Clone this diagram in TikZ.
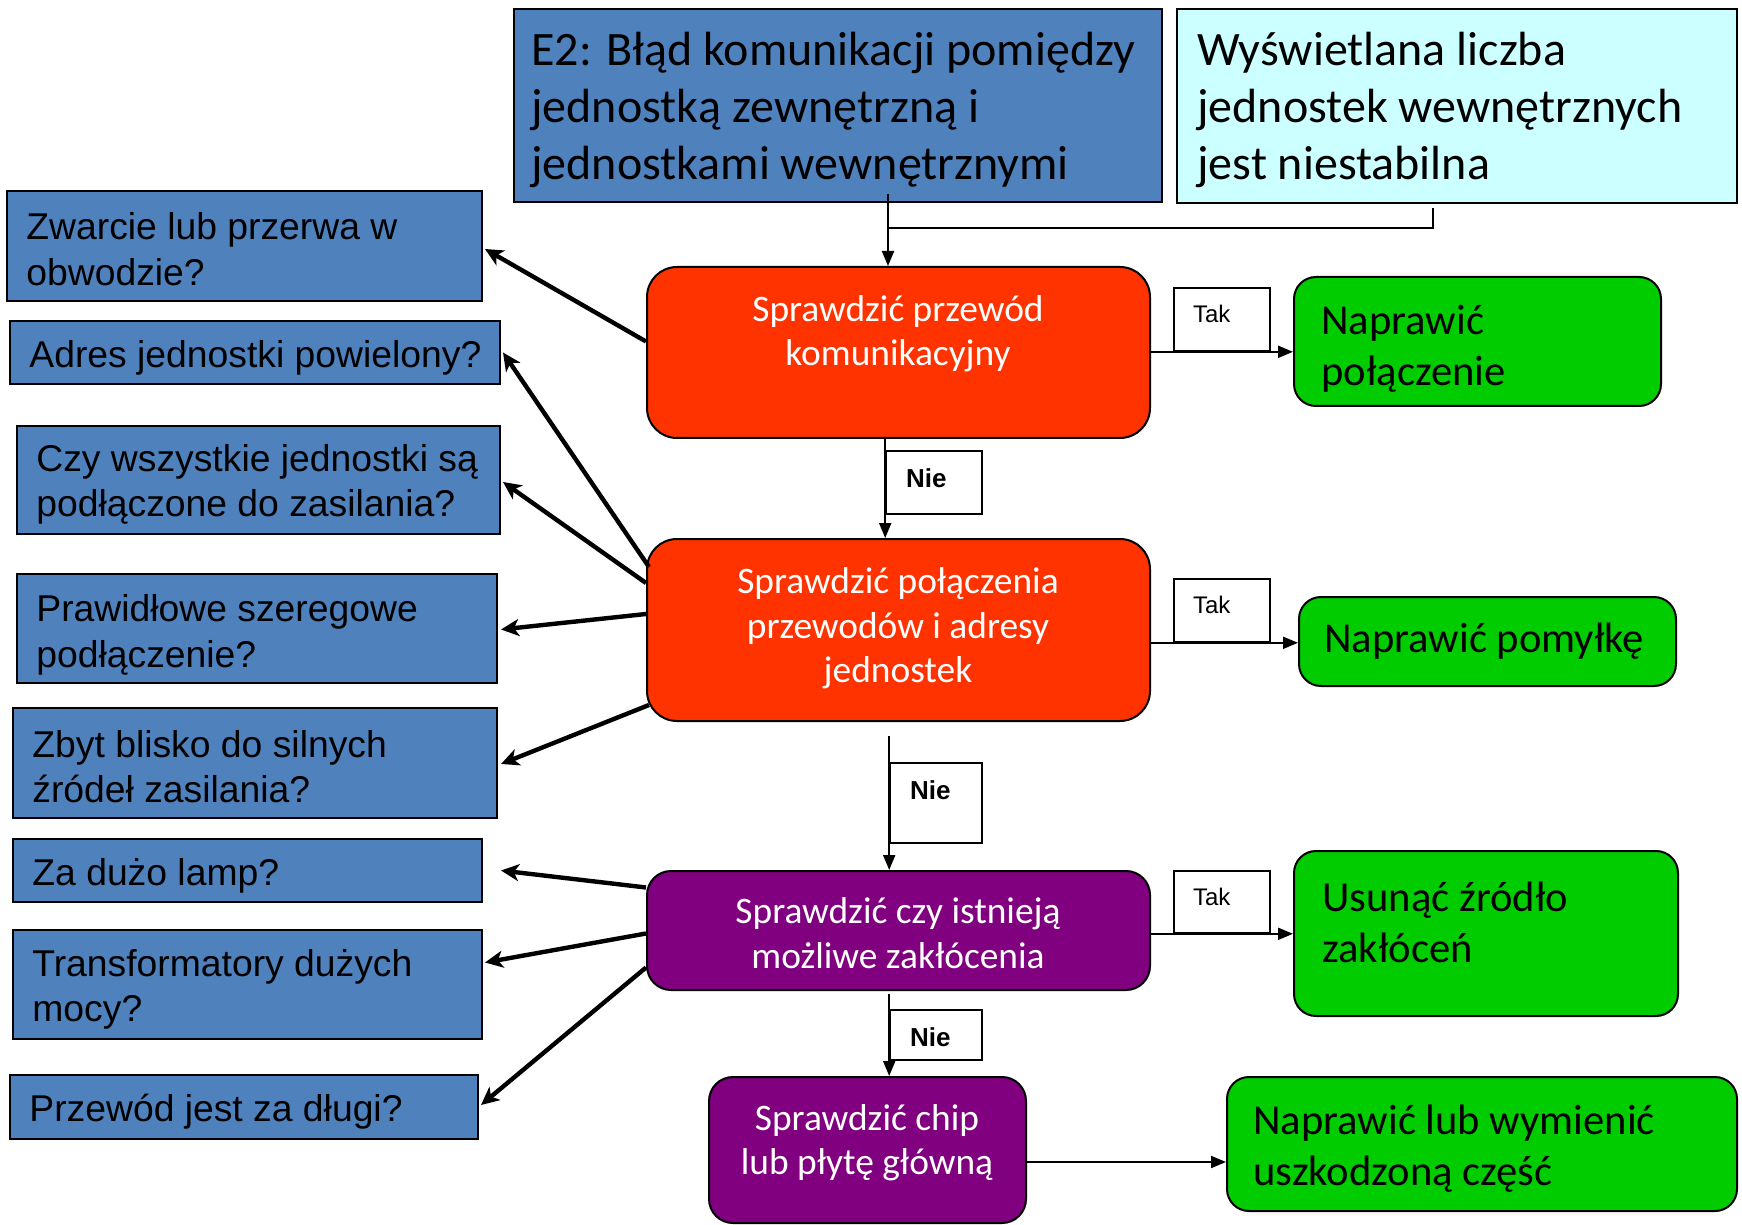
\documentclass[tikz,border=0pt]{standalone}
\usepackage{fontspec}
\setmainfont{Carlito}
\newfontfamily\arialf{Liberation Sans}
\usetikzlibrary{arrows.meta,calc}
\definecolor{boxblue}{HTML}{4F81BD}
\definecolor{boxcyan}{HTML}{CCFFFF}
\definecolor{boxred}{HTML}{FF3300}
\definecolor{boxgreen}{HTML}{00CC00}
\definecolor{boxpurple}{HTML}{800080}
\begin{document}
\begin{tikzpicture}[x=0.5pt,y=-0.5pt,
  dims/.style 2 args={minimum width=#1*0.5pt, minimum height=#2*0.5pt},
  basebox/.style={draw=black, line width=1pt, inner sep=0pt, rectangle},
  bluebox/.style={basebox, fill=boxblue},
  cyanbox/.style={basebox, fill=boxcyan},
  redbox/.style={basebox, fill=boxred, rounded corners=15pt},
  purbox/.style={basebox, fill=boxpurple, rounded corners=12pt},
  greenbox/.style={basebox, fill=boxgreen, rounded corners=11pt},
  tagbox/.style={draw=black, line width=0.8pt, fill=white, inner sep=0pt, rectangle},
  bigtext/.style={inner sep=0pt, anchor=west, align=left, font=\fontsize{24pt}{28.5pt}\selectfont},
  wtext/.style={inner sep=0pt, anchor=center, align=center, text=white, font=\fontsize{18.7pt}{22.2pt}\selectfont},
  gtext/.style={inner sep=0pt, anchor=west, align=left, font=\fontsize{21.3pt}{25.5pt}\selectfont},
  qtext/.style={inner sep=0pt, anchor=west, align=left, font=\arialf\fontsize{18.65pt}{22.8pt}\selectfont},
  taktext/.style={inner sep=0pt, anchor=west, font=\arialf\fontsize{12pt}{14pt}\selectfont},
  nietext/.style={inner sep=0pt, anchor=west, font=\arialf\bfseries\fontsize{13pt}{15pt}\selectfont},
  conn/.style={draw=black, line width=1pt},
  arr/.style={conn, -{Triangle[length=7.5pt,width=6pt]}},
  bigarr/.style={draw=black, line width=2.2pt, -{Stealth[length=9pt,width=8.5pt,inset=2.5pt]}}
]
\fill[white] (0,0) rectangle (1742,1225);
\useasboundingbox (0,0) rectangle (1742,1225);

% top boxes
\node[bluebox, dims={648}{193}] (e2) at (838,105.5) {};
\node[bigtext] (e2t) at (531,110) {E2: Błąd komunikacji pomiędzy\\jednostką zewnętrzną i\\jednostkami wewnętrznymi};
\node[cyanbox, dims={560}{194}] (cy) at (1457,106) {};
\node[bigtext] (cyt) at (1197,110) {Wyświetlana liczba\\jednostek wewnętrznych\\jest niestabilna};

% tag boxes
\node[tagbox, dims={96}{63}] (t1) at (1222,319.5) {};
\node[taktext] (t1t) at ($(t1.north west)+(19.5,27)$) {Tak};
\node[tagbox, dims={96}{63}] (t2) at (1222,610.5) {};
\node[taktext] (t2t) at ($(t2.north west)+(19.5,27)$) {Tak};
\node[tagbox, dims={96}{62}] (t3) at (1222,902) {};
\node[taktext] (t3t) at ($(t3.north west)+(19.5,27)$) {Tak};
\node[tagbox, dims={96}{63}] (n1) at (934,482.5) {};
\node[nietext] (n1t) at ($(n1.north west)+(20.5,28)$) {Nie};
\node[tagbox, dims={92}{80}] (n2) at (936,803) {};
\node[nietext] (n2t) at ($(n2.north west)+(20.5,28)$) {Nie};
\node[tagbox, dims={92}{50}] (n3) at (936,1035) {};
\node[nietext] (n3t) at ($(n3.north west)+(20.5,28)$) {Nie};

% process boxes
\node[redbox, dims={503}{171}] (r1) at (898.5,352.5) {};
\node[wtext] (r1t) at (898,334) {Sprawdzić przewód\\komunikacyjny};
\node[redbox, dims={503}{182}] (r2) at (898.5,630) {};
\node[wtext] (r2t) at (898,628.5) {Sprawdzić połączenia\\przewodów i adresy\\jednostek};
\node[purbox, dims={503}{119}] (p1) at (898.5,930.5) {};
\node[wtext] (p1t) at (898,933) {Sprawdzić czy istnieją\\możliwe zakłócenia};
\node[purbox, dims={317}{146}] (p2) at (867.5,1150) {};
\node[wtext] (p2t) at (867,1143) {Sprawdzić chip\\lub płytę główną};

% green boxes
\node[greenbox, dims={367}{129}] (g1) at (1477.5,341.5) {};
\node[gtext] (g1t) at (1321,349) {Naprawić\\połączenie};
\node[greenbox, dims={377}{89}] (g2) at (1487.5,641.5) {};
\node[gtext] (g2t) at (1324,641) {Naprawić pomyłkę};
\node[greenbox, dims={384}{165}] (g3) at (1486,933.5) {};
\node[gtext] (g3t) at (1322,922) {Usunąć źródło\\zakłóceń};
\node[greenbox, dims={510}{134}] (g4) at (1482,1144) {};
\node[gtext] (g4t) at (1253,1149) {Naprawić lub wymienić\\uszkodzoną część};

% question boxes
\node[bluebox, dims={475}{110}] (b1) at (244.5,246) {};
\node[qtext] (b1t) at (26,249) {Zwarcie lub przerwa w\\obwodzie?};
\node[bluebox, dims={490}{63}] (b2) at (255,352.5) {};
\node[qtext] (b2t) at (29,358) {Adres jednostki powielony?};
\node[bluebox, dims={483}{108}] (b3) at (258.5,480) {};
\node[qtext] (b3t) at (36,484.5) {Czy wszystkie jednostki są\\podłączone do zasilania?};
\node[bluebox, dims={480}{109}] (b4) at (257,628.5) {};
\node[qtext] (b4t) at (36,635) {Prawidłowe szeregowe\\podłączenie?};
\node[bluebox, dims={484}{110}] (b5) at (255,763) {};
\node[qtext] (b5t) at (32,766.5) {Zbyt blisko do silnych\\źródeł zasilania?};
\node[bluebox, dims={469}{63}] (b6) at (247.5,870.5) {};
\node[qtext] (b6t) at (32,876) {Za dużo lamp?};
\node[bluebox, dims={469}{109}] (b7) at (247.5,984.5) {};
\node[qtext] (b7t) at (32,989.5) {Transformatory dużych\\mocy?};
\node[bluebox, dims={468}{64}] (b8) at (244,1107) {};
\node[qtext] (b8t) at (29,1112) {Przewód jest za długi?};

% top connectors
\draw[arr] ($(e2.south)+(50,-9)$) -- ($(r1.north)+(-10.5,0)$);
\draw[conn] ($(cy.south)+(-24,4)$) |- ($(e2.south)+(50,25)$);

% Tak connectors
\draw[arr] (r1.east |- t1.south) -- (g1.west |- t1.south);
\draw[arr] (r2.east |- t2.south) -- (g2.west |- t2.south);
\draw[arr] (p1.east |- t3.south) -- (g3.west |- t3.south);
\draw[arr] ($(p2.east)+(0,12)$) -- ($(g4.west)+(0,18)$);

% Nie connectors
\draw[arr] (r1.south -| n1.west) -- (r2.north -| n1.west);
\draw[arr] ($(n2.north west)+(0,-26)$) -- (p1.north -| n2.west);
\draw[arr] ($(n3.north west)+(0,-15)$) -- (p2.north -| n3.west);

% question arrows
\draw[bigarr] ($(r1.west)+(0,-11)$) -- ($(b1.east)+(2,3)$);
\draw[bigarr] ($(r2.west)+(3,-63)$) -- ($(b2.east)+(2,0)$);
\draw[bigarr] ($(r2.west)+(0,-47)$) -- ($(b3.east)+(2,2)$);
\draw[bigarr] ($(r2.west)+(0,-16)$) -- ($(b4.east)+(3,1)$);
\draw[bigarr] ($(r2.west)+(3,75)$) -- ($(b5.east)+(3,1)$);
\draw[bigarr] ($(p1.west)+(0,-43)$) -- ($(b6.east)+(18,0)$);
\draw[bigarr] ($(p1.west)+(0,3)$) -- ($(b7.east)+(2,-22)$);
\draw[bigarr] ($(p1.west)+(0,37)$) -- ($(b8.east)+(2,-2)$);
\end{tikzpicture}
\end{document}
